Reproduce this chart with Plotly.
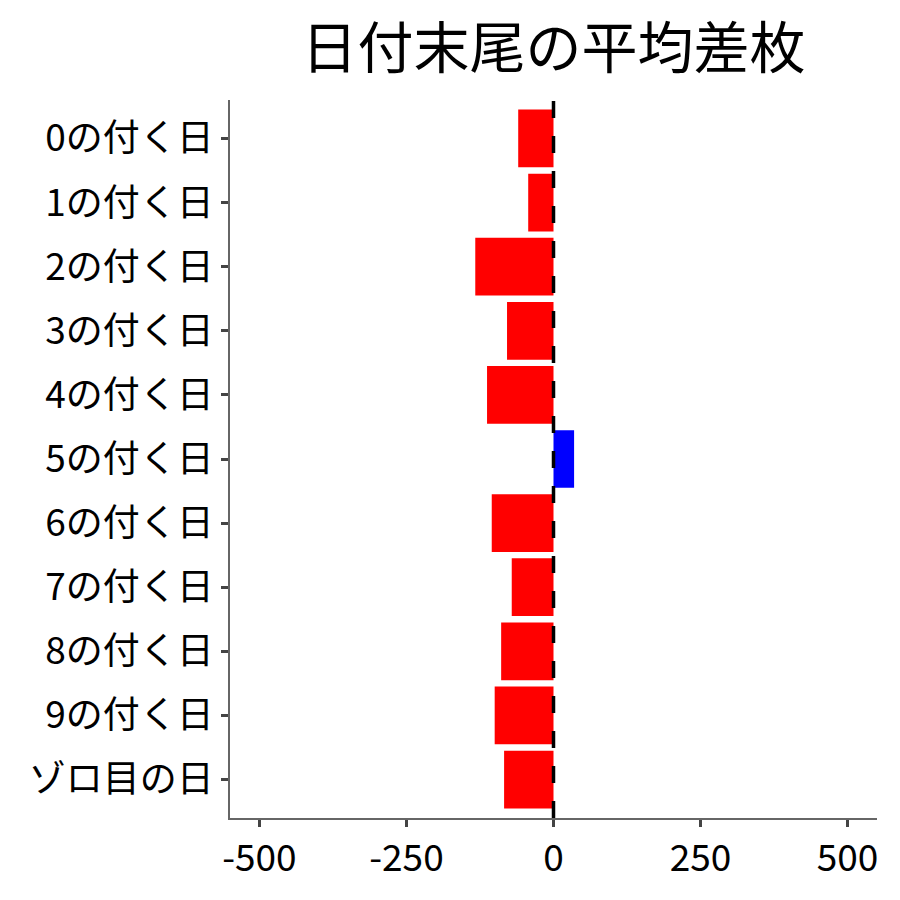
import plotly.graph_objects as go

# データ
categories = ["0の付く日", "1の付く日", "2の付く日", "3の付く日", "4の付く日",
              "5の付く日", "6の付く日", "7の付く日", "8の付く日", "9の付く日",
              "ゾロ目の日"]
avg_diff = [-60, -43, -133, -79, -113, 35, -105, -71, -89, -100, -84]
x_ticks = [-500, -250, 0, 250, 500]

COLOR_NEG = "#FF0000"
COLOR_POS = "#0000FF"
FONT = "Noto Sans CJK JP"

bar_colors = [COLOR_POS if v > 0 else COLOR_NEG for v in avg_diff]

fig = go.Figure(
    go.Bar(
        x=avg_diff, y=categories, orientation="h",
        marker=dict(color=bar_colors, line=dict(width=0)),
        width=0.9,
    )
)

# 0 の破線
fig.add_shape(
    type="line", xref="x", yref="paper",
    x0=0, x1=0, y0=0, y1=1,
    line=dict(color="black", width=3.5, dash="17px,18px"),
)

fig.update_layout(
    width=900, height=900,
    paper_bgcolor="white", plot_bgcolor="white",
    font=dict(family=FONT, size=37, color="black"),
    margin=dict(l=222, r=31, t=92, b=90),
    showlegend=False,
    title=dict(
        text="日付末尾の平均差枚",
        font=dict(family=FONT, size=56, color="black"),
        x=0.5, xanchor="center", xref="paper",
        y=0.955, yanchor="middle",
    ),
    xaxis=dict(
        range=[-550, 550], tickvals=x_ticks,
        ticktext=[str(t) for t in x_ticks],
        showgrid=False, zeroline=False,
        showline=True, linecolor="#666", linewidth=1.5,
        ticks="outside", ticklen=7, tickwidth=2.5, tickcolor="#444",
        tickfont=dict(family=FONT, size=37, color="black"),
    ),
    yaxis=dict(
        categoryorder="array", categoryarray=categories,
        range=[10.6, -0.6],
        showgrid=False, zeroline=False,
        showline=True, linecolor="#666", linewidth=1.5,
        ticks="outside", ticklen=7, tickwidth=2.5, tickcolor="#444",
        tickfont=dict(family=FONT, size=37, color="black"),
    ),
)

fig.write_html("out.html")
